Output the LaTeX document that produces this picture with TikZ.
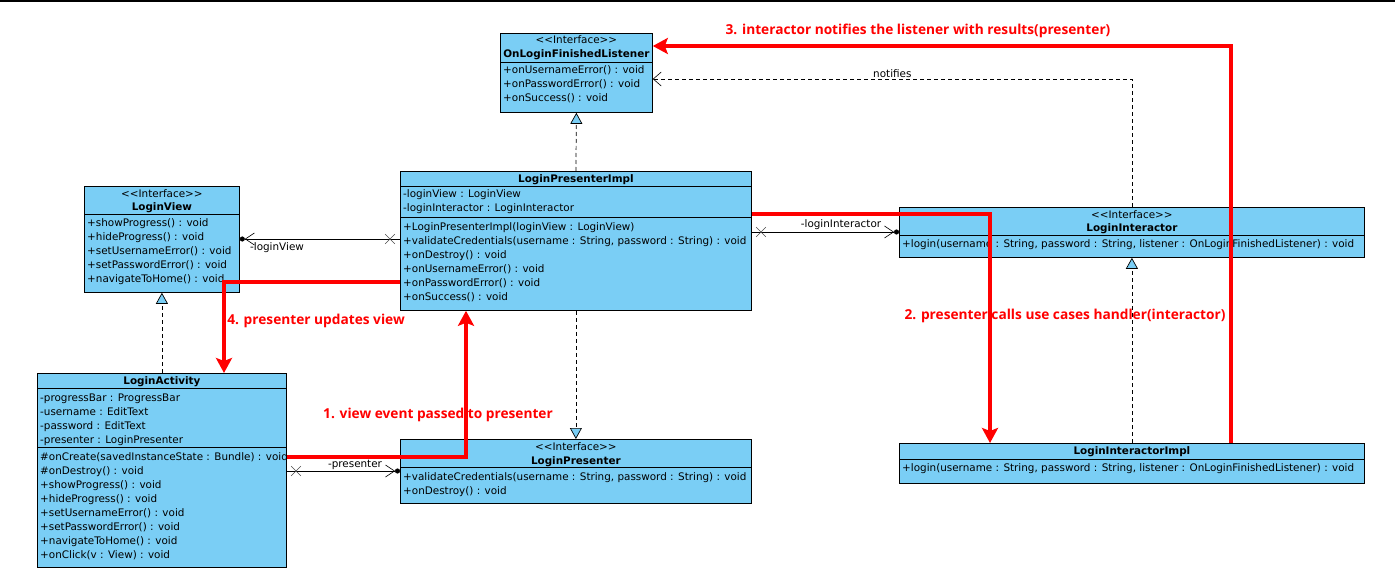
\documentclass[tikz,border=0pt]{standalone}
\usepackage{fontspec}
\usetikzlibrary{arrows.meta,shapes.misc}
\newfontfamily\umlfont{DejaVu Sans}
\newfontfamily\notefont{Open Sans}
\definecolor{umlblue}{RGB}{122,206,245}
\definecolor{flowred}{RGB}{255,0,0}
\tikzset{
  umlbox/.style={draw, line width=0.8pt, fill=umlblue, anchor=north west, inner sep=0pt},
  member/.style={anchor=base west, inner sep=0pt, font=\umlfont\fontsize{10.4}{12}\selectfont},
  stereo/.style={anchor=base, inner sep=0pt, font=\umlfont\fontsize{10.4}{12}\selectfont},
  title/.style={anchor=base, inner sep=0pt, font=\umlfont\bfseries\fontsize{10.4}{12}\selectfont},
  realize/.style={line width=0.7pt, dash pattern=on 4pt off 3pt, -{Triangle[length=11pt,width=12pt,fill=umlblue]}},
  depend/.style={line width=0.6pt, dash pattern=on 4pt off 3pt, -{Straight Barb[length=8pt,width=14pt]}},
  assoc/.style={line width=0.6pt, -{Straight Barb[length=9pt,width=12pt] Circle[length=5pt]}},
  xmark/.style={draw, cross out, line width=0.6pt, minimum size=9pt, inner sep=0pt, black!70},
  flow/.style={flowred, line width=4pt, -{Stealth[length=15pt,width=16pt,inset=3pt]}},
  flowlabel/.style={flowred, inner sep=0pt, font=\notefont\bfseries\fontsize{13.7}{15}\selectfont}
}
\begin{document}
\begin{tikzpicture}[x=1pt,y=-1pt]
\useasboundingbox (0,0) rectangle (1395,577);
\draw[line width=2pt] (0,1) -- (1395,1);

% OnLoginFinishedListener
\node[umlbox, minimum width=152pt, minimum height=79pt] (listener) at (500,33) {};
\node[stereo] (listener-s) at (listener.north |- 0,44) {<{}<Interface>{}>};
\node[title] (listener-t) at (listener.north |- 0,58) {OnLoginFinishedListener};
\draw[line width=0.8pt] (listener.west |- 0,62) -- (listener.east |- 0,62);
\foreach \t [count=\i] in {{+onUsernameError() : void},{+onPasswordError() : void},{+onSuccess() : void}}
  \node[member] (listener-m\i) at (503,{74+14*(\i-1)}) {\t};

% LoginView
\node[umlbox, minimum width=155pt, minimum height=106pt] (view) at (84,186) {};
\node[stereo] (view-s) at (view.north |- 0,198) {<{}<Interface>{}>};
\node[title] (view-t) at (view.north |- 0,211) {LoginView};
\draw[line width=0.8pt] (view.west |- 0,214) -- (view.east |- 0,214);
\foreach \t [count=\i] in {{+showProgress() : void},{+hideProgress() : void},{+setUsernameError() : void},{+setPasswordError() : void},{+navigateToHome() : void}}
  \node[member] (view-m\i) at (87,{227+14*(\i-1)}) {\t};

% LoginPresenterImpl
\node[umlbox, minimum width=351pt, minimum height=139pt] (pimpl) at (400,171) {};
\node[title] (pimpl-t) at (pimpl.north |- 0,183) {LoginPresenterImpl};
\draw[line width=0.8pt] (pimpl.west |- 0,186) -- (pimpl.east |- 0,186);
\node[member] (pimpl-a1) at (403,198) {-loginView : LoginView};
\node[member] (pimpl-a2) at (403,212) {-loginInteractor : LoginInteractor};
\draw[line width=0.8pt] (pimpl.west |- 0,217) -- (pimpl.east |- 0,217);
\foreach \t [count=\i] in {{+LoginPresenterImpl(loginView : LoginView)},{+validateCredentials(username : String, password : String) : void},{+onDestroy() : void},{+onUsernameError() : void},{+onPasswordError() : void},{+onSuccess() : void}}
  \node[member] (pimpl-m\i) at (403,{231+14*(\i-1)}) {\t};

% LoginInteractor
\node[umlbox, minimum width=465pt, minimum height=50pt] (interactor) at (899,207) {};
\node[stereo] (interactor-s) at (interactor.north |- 0,219) {<{}<Interface>{}>};
\node[title] (interactor-t) at (interactor.north |- 0,232) {LoginInteractor};
\draw[line width=0.8pt] (interactor.west |- 0,235) -- (interactor.east |- 0,235);
\node[member] (interactor-m1) at (902,248) {+login(username : String, password : String, listener : OnLoginFinishedListener) : void};

% LoginActivity
\node[umlbox, minimum width=249pt, minimum height=194pt] (activity) at (37,373) {};
\node[title] (activity-t) at (activity.north |- 0,384) {LoginActivity};
\draw[line width=0.8pt] (activity.west |- 0,388) -- (activity.east |- 0,388);
\foreach \t [count=\i] in {{-progressBar : ProgressBar},{-username : EditText},{-password : EditText},{-presenter : LoginPresenter}}
  \node[member] (activity-a\i) at (40,{401+14*(\i-1)}) {\t};
\draw[line width=0.8pt] (activity.west |- 0,447) -- (activity.east |- 0,447);
\foreach \t [count=\i] in {{\#onCreate(savedInstanceState : Bundle) : void},{\#onDestroy() : void},{+showProgress() : void},{+hideProgress() : void},{+setUsernameError() : void},{+setPasswordError() : void},{+navigateToHome() : void},{+onClick(v : View) : void}}
  \node[member] (activity-m\i) at (40,{460+14*(\i-1)}) {\t};

% LoginPresenter
\node[umlbox, minimum width=351pt, minimum height=64pt] (presenter) at (400,439) {};
\node[stereo] (presenter-s) at (presenter.north |- 0,450) {<{}<Interface>{}>};
\node[title] (presenter-t) at (presenter.north |- 0,464) {LoginPresenter};
\draw[line width=0.8pt] (presenter.west |- 0,467) -- (presenter.east |- 0,467);
\node[member] (presenter-m1) at (403,480) {+validateCredentials(username : String, password : String) : void};
\node[member] (presenter-m2) at (403,494) {+onDestroy() : void};

% LoginInteractorImpl
\node[umlbox, minimum width=465pt, minimum height=40pt] (iimpl) at (899,443) {};
\node[title] (iimpl-t) at (iimpl.north |- 0,454) {LoginInteractorImpl};
\draw[line width=0.8pt] (iimpl.west |- 0,459) -- (iimpl.east |- 0,459);
\node[member] (iimpl-m1) at (902,471) {+login(username : String, password : String, listener : OnLoginFinishedListener) : void};

% Realizations
\draw[realize] (pimpl.north) -- (listener.south);
\draw[realize] (activity.north -| view.south) -- (view.south);
\draw[realize] (pimpl.south) -- (presenter.north);
\draw[realize] (iimpl.north -| interactor.south) -- (interactor.south);
\draw[depend] (interactor.north) |- (listener.east |- 0,79) node[pos=0.75, above=1pt, member, anchor=south] (notifies) {notifies};

% Associations
\draw[assoc] (pimpl.west |- 0,239) -- (view.east |- 0,239);
\node[xmark] (xview) at (390,239) {};
\node[member, anchor=base] (lview) at (277,251) {-loginView};
\draw[assoc] (pimpl.east |- 0,232) -- (interactor.west |- 0,232);
\node[xmark] (xinteractor) at (761,232) {};
\node[member, anchor=base] (linteractor) at (841,228) {-loginInteractor};
\draw[assoc] (activity.east |- 0,471) -- (presenter.west |- 0,471);
\node[xmark] (xpresenter) at (296,471) {};
\node[member, anchor=base] (lpresenter) at (355,467) {-presenter};

% Flow of events
\draw[flow] (activity.east |- 0,457) -| (pimpl.south -| 466,0);
\node[flowlabel] (step1) at (438,415) {1. view event passed to presenter};
\draw[flow] (pimpl.east |- 0,214) -| (iimpl.north -| 990,0);
\node[flowlabel] (step2) at (1065,316) {2. presenter calls use cases handler(interactor)};
\draw[flow] (iimpl.north -| 1231,0) |- (listener.east |- 0,46);
\node[flowlabel] (step3) at (918,31) {3. interactor notifies the listener with results(presenter)};
\draw[flow] (pimpl.west |- 0,282) -| (activity.north -| 224,0);
\node[flowlabel] (step4) at (316,321) {4. presenter updates view};

\end{tikzpicture}
\end{document}
